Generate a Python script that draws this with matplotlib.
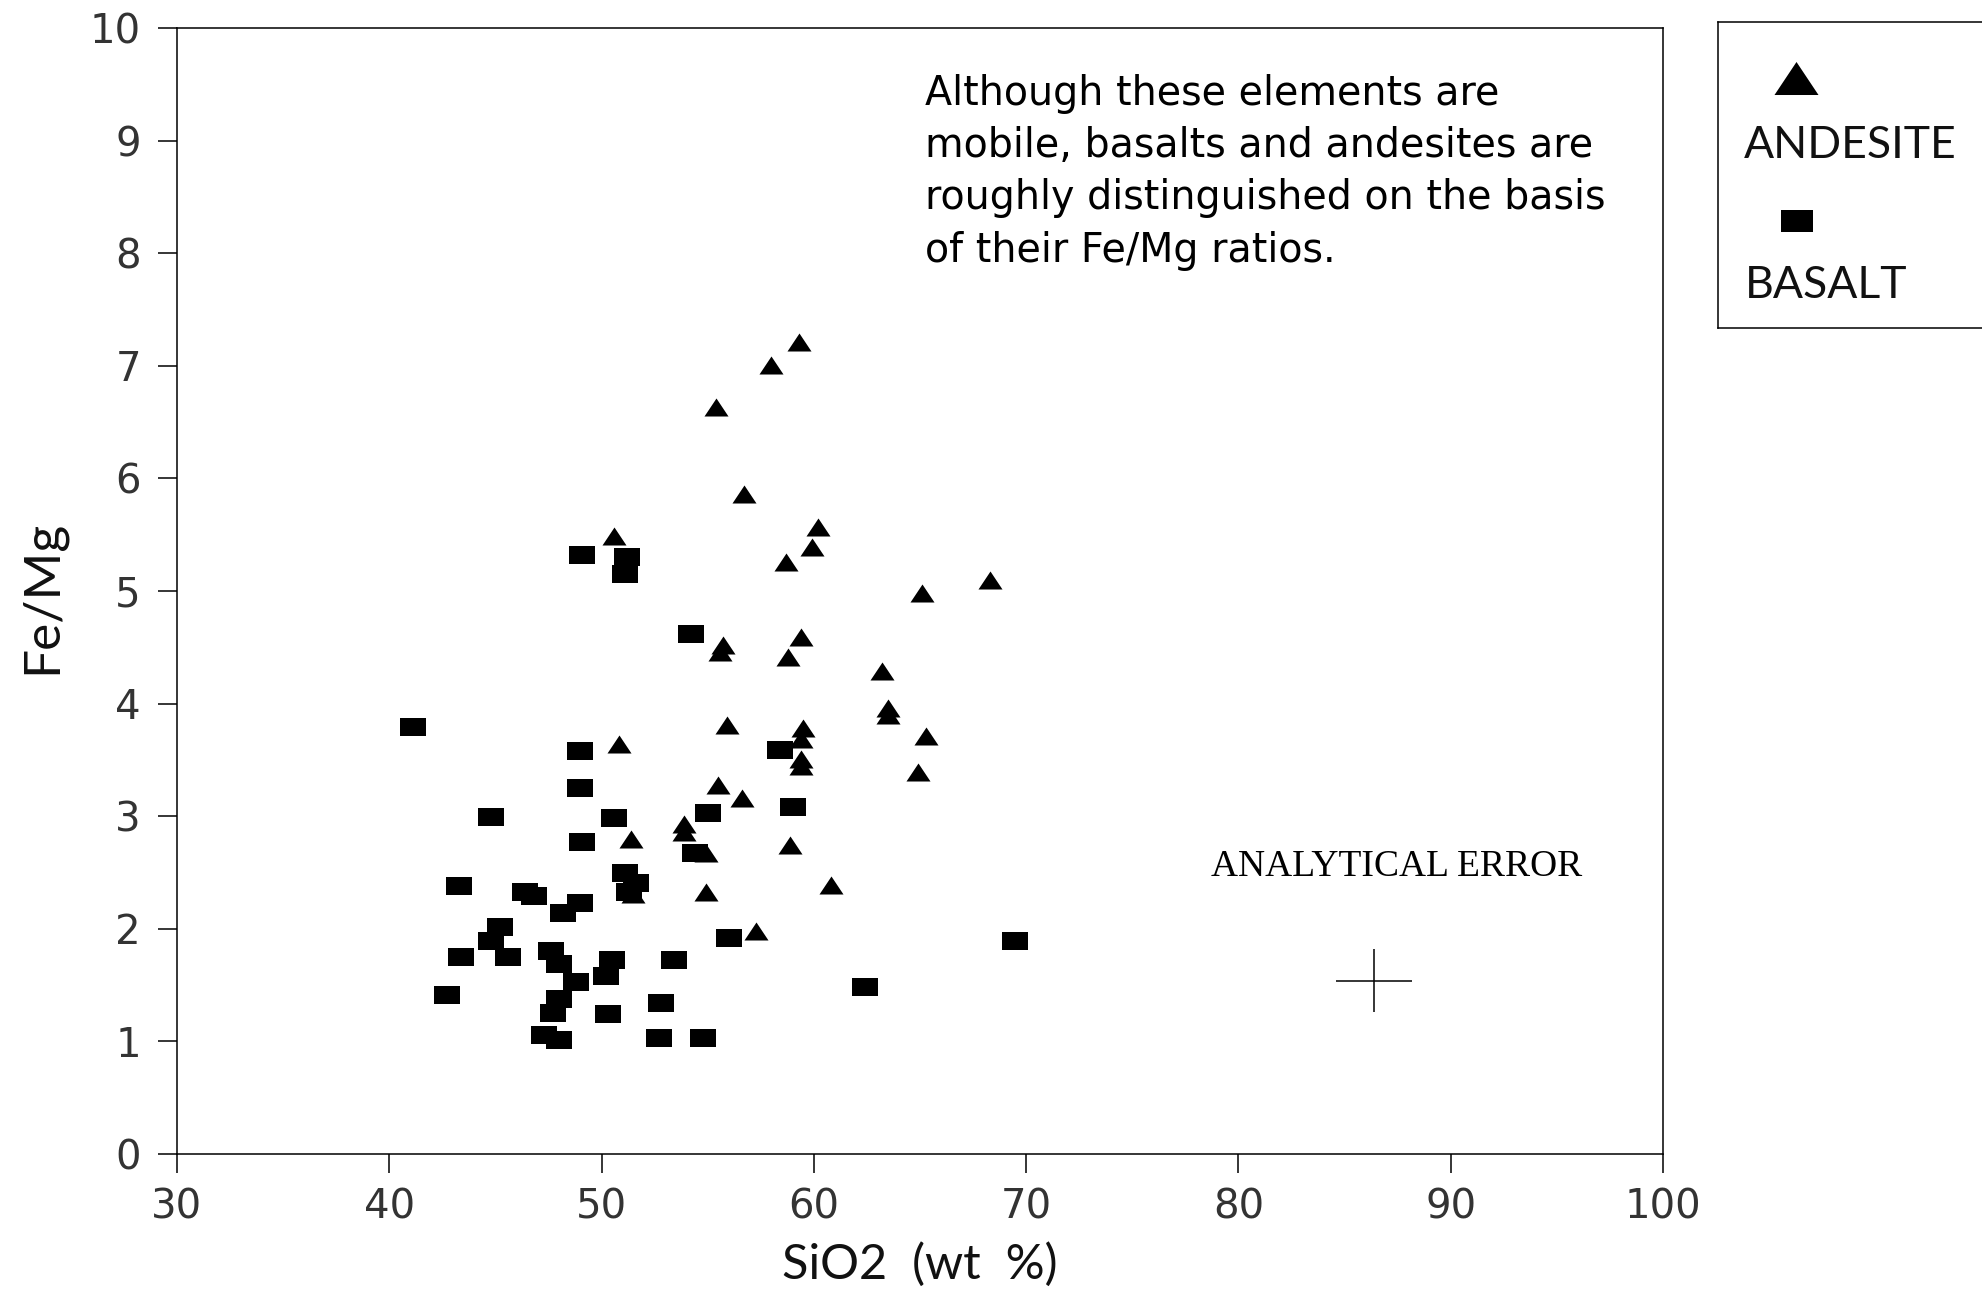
"""Fe/Mg vs SiO2 scatter for andesites and basalts."""

import matplotlib

matplotlib.use("Agg")
import matplotlib.pyplot as plt

# values
ANDESITE_SIO2 = [
    59.3, 58.0, 55.4, 56.7, 60.2, 59.9, 58.7, 50.6, 65.1, 68.3,
    59.4, 55.7, 55.6, 58.8, 63.2, 63.5, 63.5, 65.3, 55.9, 59.5,
    59.4, 59.4, 59.4, 50.8, 55.5, 56.6, 64.9, 53.9, 53.9, 51.4,
    54.9, 58.9, 60.8, 54.9, 51.5, 57.3,
]
ANDESITE_FEMG = [
    7.21, 7.01, 6.63, 5.86, 5.57, 5.39, 5.26, 5.49, 4.98, 5.10,
    4.59, 4.52, 4.46, 4.41, 4.29, 3.96, 3.90, 3.71, 3.81, 3.78,
    3.69, 3.51, 3.45, 3.64, 3.28, 3.16, 3.39, 2.93, 2.86, 2.80,
    2.67, 2.74, 2.39, 2.33, 2.31, 1.98,
]
BASALT_SIO2 = [
    49.1, 51.2, 51.1, 54.2, 41.1, 49.0, 58.4, 49.0, 44.8, 50.6,
    55.0, 59.0, 49.1, 54.4, 51.1, 51.6, 51.3, 43.3, 46.4, 46.8,
    49.0, 48.2, 45.2, 44.8, 43.4, 45.6, 47.6, 48.0, 48.8, 50.5,
    50.2, 53.4, 56.0, 42.7, 48.0, 47.7, 47.3, 48.0, 50.3, 52.8,
    52.7, 54.8, 62.4, 69.5,
]
BASALT_FEMG = [
    5.32, 5.30, 5.15, 4.62, 3.79, 3.58, 3.59, 3.25, 2.99, 2.98,
    3.03, 3.08, 2.77, 2.67, 2.50, 2.41, 2.33, 2.38, 2.33, 2.29,
    2.23, 2.14, 2.02, 1.89, 1.75, 1.75, 1.80, 1.69, 1.53, 1.72,
    1.58, 1.72, 1.92, 1.41, 1.38, 1.25, 1.06, 1.01, 1.24, 1.34,
    1.03, 1.03, 1.48, 1.89,
]

X_TICKS = [30, 40, 50, 60, 70, 80, 90, 100]
Y_TICKS = [0, 1, 2, 3, 4, 5, 6, 7, 8, 9, 10]

ERROR_SIO2 = 86.4
ERROR_FEMG = 1.54
ERROR_DX = 1.8
ERROR_DY = 0.28

NOTE = (
    "Although these elements are\n"
    "mobile, basalts and andesites are\n"
    "roughly distinguished on the basis\n"
    "of their Fe/Mg ratios."
)

THIN = ["Lato", "DejaVu Sans"]
NARROW = ["Liberation Sans Narrow", "DejaVu Sans"]

TRIANGLE = [(-1, -0.75), (1, -0.75), (0, 0.75)]
BLOCK = [(-1, -0.7), (1, -0.7), (1, 0.7), (-1, 0.7)]

fig = plt.figure(figsize=(19.82, 12.92), dpi=100)
ax = fig.add_axes([0.0893, 0.1068, 0.7497, 0.8715])

ax.plot(ANDESITE_SIO2, ANDESITE_FEMG, linestyle="none", marker=TRIANGLE,
        markersize=17.3, color="black", markeredgewidth=0)
ax.plot(BASALT_SIO2, BASALT_FEMG, linestyle="none", marker=BLOCK,
        markersize=19.4, color="black", markeredgewidth=0)

# analytical error cross
ax.errorbar([ERROR_SIO2], [ERROR_FEMG], xerr=ERROR_DX, yerr=ERROR_DY,
            fmt="none", ecolor="black", elinewidth=1.1, capsize=0)
ax.text(78.7, 2.55, "ANALYTICAL ERROR", ha="left", va="center",
        fontsize=27, family=["Liberation Serif", "DejaVu Serif"])

ax.set_xlim(30, 100)
ax.set_ylim(0, 10)
ax.set_xticks(X_TICKS)
ax.set_yticks(Y_TICKS)
ax.set_xticklabels([str(t) for t in X_TICKS])
ax.set_yticklabels([str(t) for t in Y_TICKS])
ax.tick_params(direction="out", length=14, width=1.1, labelsize=29,
               labelcolor="#333333")
ax.tick_params(axis="x", pad=10)
ax.tick_params(axis="y", pad=12)
for label in ax.get_xticklabels() + ax.get_yticklabels():
    label.set_fontfamily(NARROW)
for spine in ax.spines.values():
    spine.set_linewidth(1.1)

ax.set_xlabel("SiO2  (wt  %)", fontsize=35, family=THIN, color="#111111",
              va="center")
ax.xaxis.set_label_coords(0.5, -0.098)
ax.set_ylabel("Fe/Mg", fontsize=37, family=THIN, color="#111111",
              va="center")
ax.yaxis.set_label_coords(-0.091, 0.495)

fig.text(0.4668, 0.943, NOTE, ha="left", va="top", fontsize=28.5,
         family=["DejaVu Sans"], linespacing=1.4)

# legend box drawn in figure pixel coordinates, cut by the right edge
leg = fig.add_axes([1718 / 1982, 1 - 328 / 1292, 0.2, 306 / 1292])
leg.set_xlim(1718, 1718 + 0.2 * 1982)
leg.set_ylim(328, 22)
leg.set_xticks([])
leg.set_yticks([])
for spine in leg.spines.values():
    spine.set_linewidth(1.1)
leg.plot([1796], [78], marker=TRIANGLE, markersize=31.7, color="black",
         markeredgewidth=0, linestyle="none")
leg.plot([1797], [221], marker=BLOCK, markersize=23, color="black",
         markeredgewidth=0, linestyle="none")
leg.text(1744, 145, "ANDESITE", ha="left", va="center", fontsize=32,
         family=THIN, color="#111111")
leg.text(1745, 285, "BASALT", ha="left", va="center", fontsize=32,
         family=THIN, color="#111111")

fig.savefig("out.png", dpi=100)
